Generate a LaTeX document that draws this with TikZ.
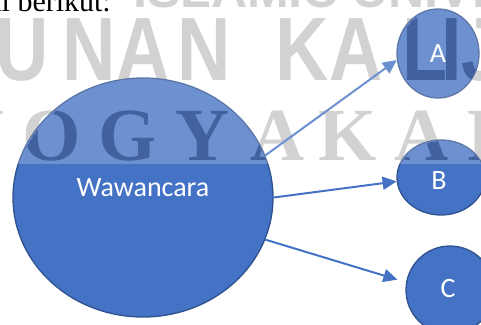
\documentclass[tikz,border=0pt]{standalone}
\usepackage{fontspec}
\setmainfont{Liberation Serif}
\newfontfamily\carlito{Carlito}
\newfontfamily\wmsans{Liberation Sans}
\usetikzlibrary{shapes.geometric,arrows.meta}
\definecolor{obl}{HTML}{4472C4}
\definecolor{obd}{HTML}{2F528F}
\definecolor{wmgray}{HTML}{C6C6C6}
\definecolor{wmblue}{HTML}{42629F}
\newcommand{\narrowch}[1]{\scalebox{0.82}[1]{#1}}
\newcommand{\wmdraw}[2]{%
  \node[wmzero,text=#1] (#2z) at (133,8) {ISLAMIC UNIVERSITY};
  \foreach \ch/\cx [count=\i] in {U/22,N/89,A/143,N/204,K/302,A/356,L/425,I/452,J/482}
    \node[wmone,text=#1] (#2a\i) at (\cx,80) {\narrowch{\ch}};
  \foreach \ch/\cx [count=\i] in {Y/-22,O/52,G/128,Y/203,A/278,K/348,A/422,R/495}
    \node[wmtwo,text=#1] (#2b\i) at (\cx,160) {\ch};
}
\begin{document}
\begin{tikzpicture}[x=1pt,y=-1pt,
  bubble/.style={ellipse,draw=obd,fill=obl,line width=1.3pt,inner sep=0pt},
  lbl/.style={text=white,font=\carlito\fontsize{28}{28}\selectfont,anchor=base,inner sep=0pt},
  conn/.style={draw=obl,line width=2pt,-{Triangle[length=14pt,width=13pt]}},
  wmone/.style={inner sep=0pt,font=\wmsans\bfseries\fontsize{90}{90}\selectfont,anchor=base},
  wmtwo/.style={inner sep=0pt,font=\bfseries\fontsize{75}{75}\selectfont,anchor=base},
  wmzero/.style={inner sep=0pt,font=\wmsans\bfseries\fontsize{50}{50}\selectfont,anchor=base west}
]
\useasboundingbox (0,0) rectangle (481,324);
% watermark on white paper
\wmdraw{wmgray}{g}
% bubbles
\node[bubble,minimum width=260pt,minimum height=239pt] (W) at (143,197.5) {};
\node[bubble,minimum width=82pt,minimum height=89pt] (A) at (438,53.5) {};
\node[bubble,minimum width=88pt,minimum height=75pt] (B) at (441,177.5) {};
\node[bubble,minimum width=88pt,minimum height=88pt] (C) at (450,290) {};
% connectors
\draw[conn] (W.19.5) -- (A.189);
\draw[conn] (W.0) -- (B.185);
\draw[conn,shorten >=9pt] (W.-19) -- (C.170);
% watermark lightening band
\fill[white,opacity=0.22] (0,0) rectangle (481,164);
% watermark letters seen through the bubbles
\begin{scope}
  \clip (143,197.5) ellipse [x radius=129, y radius=118.5]
        (438,53.5) ellipse [x radius=40, y radius=43.5]
        (441,177.5) ellipse [x radius=43, y radius=36.5];
  \clip (0,0) rectangle (481,164);
  \wmdraw{wmblue}{b}
\end{scope}
% labels
\node[lbl] (tW) at (143,196) {Wawancara};
\node[lbl] (tA) at (438,62) {A};
\node[lbl] (tB) at (439,189) {B};
\node[lbl] (tC) at (448,297) {C};
% document text
\node[anchor=base east,inner sep=0pt,font=\fontsize{30}{30}\selectfont] (txt) at (111,11) {sebagai berikut:};
\end{tikzpicture}
\end{document}
